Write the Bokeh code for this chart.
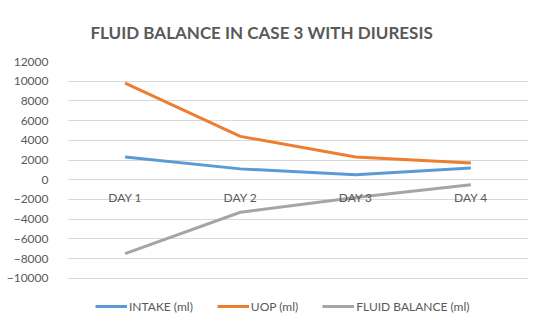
from bokeh.plotting import figure
from bokeh.models import Legend, LegendItem, FixedTicker, Title
from bokeh.core.properties import value
from bokeh.embed import file_html
from bokeh.resources import INLINE

days = ["DAY 1", "DAY 2", "DAY 3", "DAY 4"]
intake = [2300, 1100, 500, 1200]
uop = [9800, 4400, 2300, 1700]
fluid_balance = [-7500, -3300, -1800, -500]
y_ticks = list(range(-10000, 12001, 2000))
title_text = "FLUID BALANCE IN CASE 3 WITH DIURESIS"

FONT = "Lato"
GREY_TXT = "#595959"

W, H = 546, 332
# the frame extends below -10000 to leave room for the legend inside it
p = figure(width=W, height=H, x_range=days, y_range=(-14800, 12000),
           output_backend="svg", toolbar_location=None,
           min_border_left=67, min_border_right=18, min_border_top=60, min_border_bottom=7)
p.outline_line_color = None
p.xaxis.visible = False
p.xgrid.visible = False
p.ygrid.grid_line_color = "#d9d9d9"
p.ygrid.grid_line_width = 1
p.yaxis.ticker = FixedTicker(ticks=y_ticks)
p.yaxis.axis_line_color = None
p.yaxis.major_tick_line_color = None
p.yaxis.minor_tick_line_color = None
p.yaxis.major_label_text_font = FONT
p.yaxis.major_label_text_font_size = "12px"
p.yaxis.major_label_text_color = GREY_TXT
p.yaxis.major_label_standoff = 13

p.title = Title(text=title_text, align="left", offset=23, text_font=FONT, text_font_size="17px",
                text_font_style="bold", text_color=GREY_TXT, standoff=38)

r1 = p.line(days, intake, line_color="#5B9BD5", line_width=3)
r2 = p.line(days, uop, line_color="#ED7D31", line_width=3)
r3 = p.line(days, fluid_balance, line_color="#A5A5A5", line_width=3)

p.text(x=days, y=[0] * len(days), text=days, text_align="center", text_baseline="middle",
       y_offset=18, text_font=value(FONT), text_font_size="12px", text_color=GREY_TXT)

legend = Legend(items=[LegendItem(label="INTAKE (ml)", renderers=[r1]),
                       LegendItem(label="UOP (ml)", renderers=[r2]),
                       LegendItem(label="FLUID BALANCE (ml)", renderers=[r3])],
                orientation="horizontal", location=(28, 9),
                border_line_color=None, background_fill_alpha=0,
                label_text_font=FONT, label_text_font_size="12px", label_text_color=GREY_TXT,
                glyph_width=32, glyph_height=20, label_standoff=2, spacing=24,
                padding=0, margin=0)
p.add_layout(legend, "center")

open("out.html", "w").write(file_html(p, INLINE))
